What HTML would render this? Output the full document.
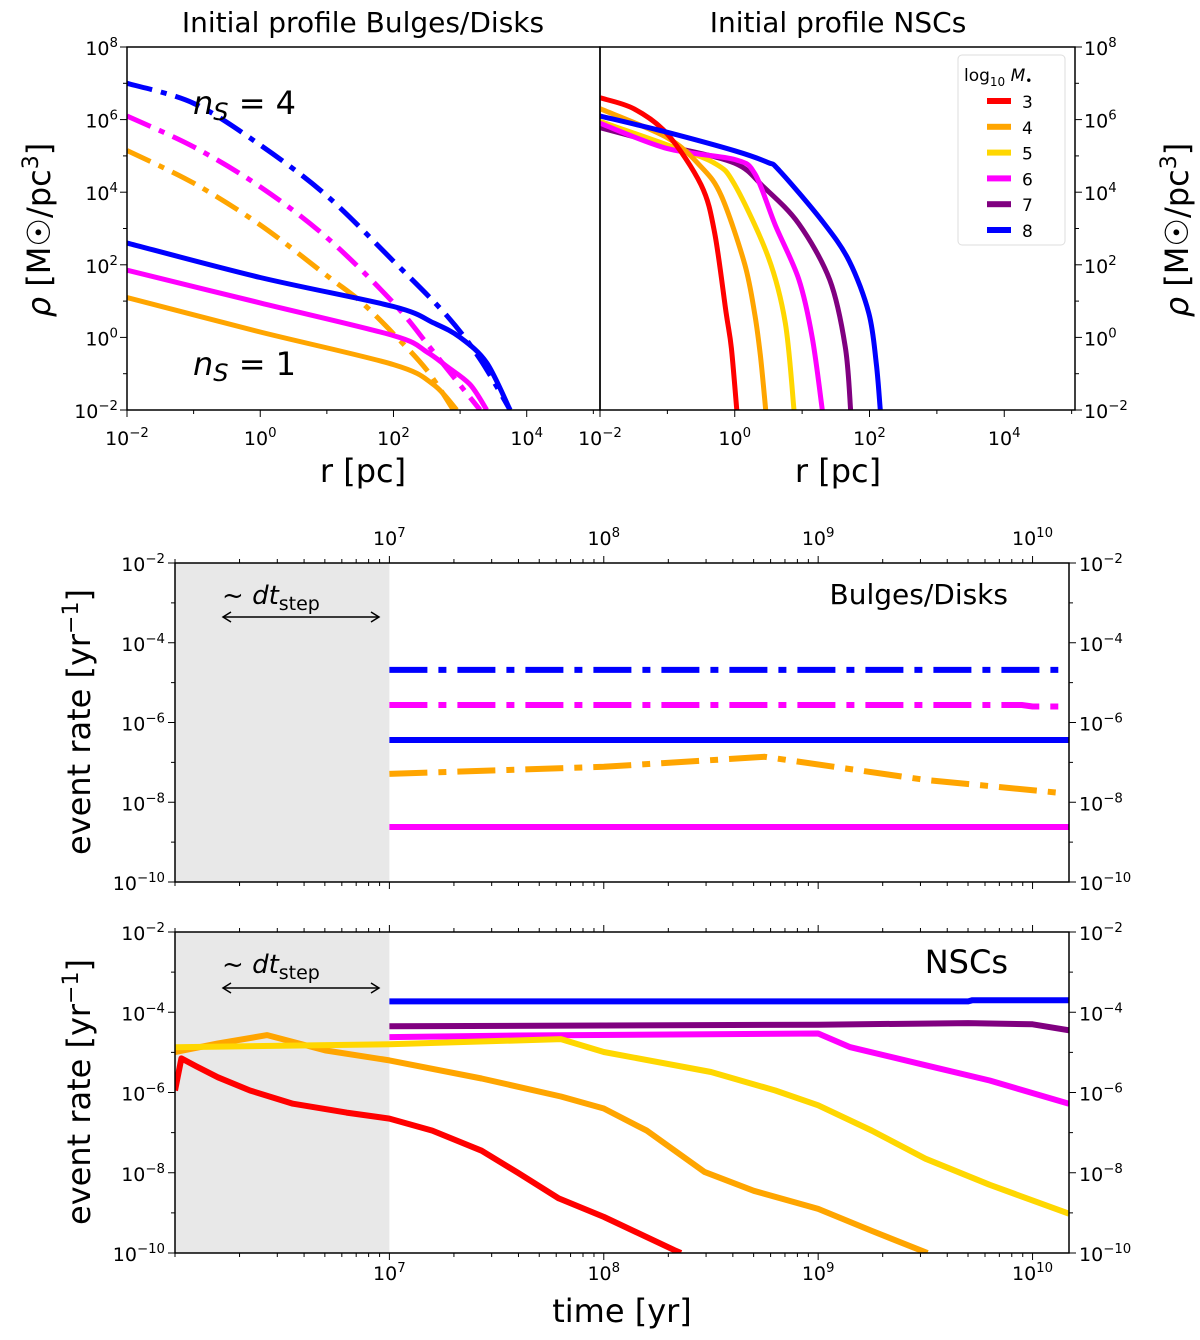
<!DOCTYPE html>
<html><head><meta charset="utf-8"><style>
body{margin:0;background:#fff}
svg{display:block}
text{font-family:"DejaVu Sans","Liberation Sans",sans-serif;fill:#000}
</style></head><body>
<svg id="c" width="1200" height="1340" viewBox="0 0 1200 1340" xmlns="http://www.w3.org/2000/svg"></svg>
<script>
// ---------- data ----------
const massLabels=["3","4","5","6","7","8"];
const massColors=["#ff0000","#ffa500","#ffd700","#ff00ff","#800080","#0000ff"];
// Bulges/Disks profiles: [log r, log rho]
const bdBlueN4=[[-2,7.0],[-1,6.45],[0,5.3],[1,3.9],[2,2.1],[2.8,0.6],[3.3,-0.6],[3.75,-2]];
const bdMagN4=[[-2,6.1],[-1,5.25],[0,4.15],[1,2.75],[2,0.95],[2.6,-0.4],[3.3,-2]];
const bdOrN4=[[-2,5.15],[-1,4.25],[0,3.1],[1,1.7],[1.5,1.0],[2,0.1],[2.5,-0.9],[2.9,-2]];
const bdBlueN1=[[-2,2.6],[0,1.65],[2,0.85],[2.6,0.4],[3.0,0.0],[3.4,-0.7],[3.75,-2]];
const bdMagN1=[[-2,1.85],[0,0.95],[2,0.05],[2.5,-0.4],[2.8,-0.8],[3.15,-1.3],[3.4,-2]];
const bdOrN1=[[-2,1.1],[0,0.15],[2,-0.75],[2.6,-1.3],[2.95,-2]];
// NSC profiles
const nscRed=[[-2,6.6],[-1.5,6.3],[-1,5.6],[-0.5,4.2],[-0.3,2.9],[-0.13,0.7],[-0.05,-0.3],[0.03,-2]];
const nscOrange=[[-2,6.3],[-1,5.5],[-0.5,4.7],[-0.2,3.9],[0.15,2.0],[0.3,0.6],[0.38,-0.5],[0.46,-2]];
const nscYellow=[[-2,5.95],[-1,5.3],[-0.3,4.8],[0,4.2],[0.5,2.2],[0.75,0.4],[0.88,-2]];
const nscMagenta=[[-2,5.9],[-1,5.2],[0,4.9],[0.3,4.5],[0.6,3.1],[0.95,1.6],[1.15,0],[1.3,-2]];
const nscPurple=[[-2,5.78],[-1,5.28],[0,4.8],[0.43,4.14],[0.95,3.13],[1.41,1.58],[1.64,-0.25],[1.72,-2]];
const nscBlue=[[-2,6.1],[-1,5.65],[0,5.14],[0.49,4.82],[0.66,4.6],[1.3,3.2],[1.7,2.1],[1.99,0.67],[2.1,-0.7],[2.16,-2]];
// Event rates Bulges/Disks: [log t, log rate]
const erBlueDD=[[7,-4.68],[10.12,-4.68]];
const erMagDD=[[7,-5.56],[9.95,-5.56],[10.0,-5.6],[10.12,-5.6]];
const erBlueS=[[7,-6.44],[10.17,-6.44]];
const erOrDD=[[7,-7.29],[8,-7.11],[8.75,-6.86],[9.5,-7.44],[10.12,-7.76]];
const erMagS=[[7,-8.62],[10.17,-8.62]];
// Event rates NSCs
const nRed=[[6.0,-5.95],[6.03,-5.15],[6.1,-5.35],[6.2,-5.62],[6.35,-5.95],[6.55,-6.28],[6.8,-6.5],[7.0,-6.65],[7.2,-6.95],[7.43,-7.45],[7.6,-8.0],[7.79,-8.64],[8.0,-9.1],[8.33,-9.93],[8.36,-10]];
const nOrange=[[6.0,-4.99],[6.2,-4.78],[6.43,-4.57],[6.7,-4.95],[7.0,-5.2],[7.43,-5.65],[7.8,-6.1],[8.0,-6.4],[8.2,-6.95],[8.47,-7.98],[8.7,-8.45],[9.0,-8.9],[9.25,-9.45],[9.51,-10]];
const nYellow=[[6.0,-4.87],[7.0,-4.8],[7.8,-4.67],[8.0,-4.99],[8.5,-5.49],[8.8,-5.95],[9.0,-6.32],[9.25,-6.95],[9.5,-7.65],[9.8,-8.3],[10.17,-9.02]];
const nMagenta=[[7.0,-4.62],[7.6,-4.58],[9.0,-4.53],[9.15,-4.87],[9.5,-5.32],[9.8,-5.7],[10.17,-6.28]];
const nPurple=[[7.0,-4.35],[9.0,-4.31],[9.7,-4.27],[10.0,-4.3],[10.17,-4.45]];
const nBlue=[[7.0,-3.73],[9.7,-3.73],[9.72,-3.70],[10.17,-3.70]];

// ---------- helpers ----------
const S=document.getElementById('c');const NS="http://www.w3.org/2000/svg";
function el(t,a,p){const e=document.createElementNS(NS,t);for(const k in a)e.setAttribute(k,a[k]);(p||S).appendChild(e);return e;}
function ax(x0,x1,d0,d1){return v=>x0+(v-d0)/(d1-d0)*(x1-x0);}
function panel(name,L,R,T,B,xd,yd){
  const g=el('g',{});
  return {g,L,R,T,B,X:ax(L,R,xd[0],xd[1]),Y:ax(B,T,yd[0],yd[1]),xd,yd};
}
function clip(p,id){const c=el('clipPath',{id});el('rect',{x:p.L,y:p.T,width:p.R-p.L,height:p.B-p.T},c);return 'url(#'+id+')';}
function polyPath(pts){return pts.map((q,i)=>(i?'L':'M')+q[0].toFixed(1)+','+q[1].toFixed(1)).join('');}
function smoothPath(pts){
  if(pts.length<3)return polyPath(pts);
  let d='M'+pts[0][0].toFixed(1)+','+pts[0][1].toFixed(1);const t=0.16;
  for(let i=0;i<pts.length-1;i++){
    const p0=pts[Math.max(0,i-1)],p1=pts[i],p2=pts[i+1],p3=pts[Math.min(pts.length-1,i+2)];
    const c1=[p1[0]+(p2[0]-p0[0])*t,p1[1]+(p2[1]-p0[1])*t];
    const c2=[p2[0]-(p3[0]-p1[0])*t,p2[1]-(p3[1]-p1[1])*t];
    d+='C'+c1[0].toFixed(1)+','+c1[1].toFixed(1)+' '+c2[0].toFixed(1)+','+c2[1].toFixed(1)+' '+p2[0].toFixed(1)+','+p2[1].toFixed(1);
  }
  return d;
}
function line(p,data,color,w,dash,name,cl,smooth){
  const pts=data.map(q=>[p.X(q[0]),p.Y(q[1])]);
  const e=el('path',{d:smooth?smoothPath(pts):polyPath(pts),fill:'none',stroke:color,'stroke-width':w,'stroke-linejoin':'round','clip-path':cl},p.g);
  if(dash)e.setAttribute('stroke-dasharray',dash);
  
}
function frame(p){el('rect',{x:p.L,y:p.T,width:p.R-p.L,height:p.B-p.T,fill:'none',stroke:'#000','stroke-width':1.5},p.g);}
let p0g=S;
function sup(x,y,base,exp,anchor,fs,name){
  const t=el('text',{x,y,'font-size':fs,'text-anchor':anchor},p0g);
  
  t.innerHTML=base+'<tspan dy="-8" font-size="'+(fs*0.7)+'">'+exp+'</tspan>';
  return t;
}
function xticks(p,majors,labelY,sides,minor,prefix){
  p0g=p.g;
  for(let k=Math.floor(p.xd[0]);k<=Math.ceil(p.xd[1]);k++){
    for(let m=1;m<10;m++){const v=k+Math.log10(m);if(v<p.xd[0]-1e-6||v>p.xd[1]+1e-6)continue;
      if(m>1&&!minor)continue;const len=(m==1&&majors.includes(k))?7:4;const x=p.X(v);
      sides.forEach(s=>{const y=s=='b'?p.B:p.T;el('line',{x1:x,x2:x,y1:y,y2:s=='b'?y+len:y-len,stroke:'#000','stroke-width':1},p.g);});}
  }
  majors.forEach(v=>{if(labelY!=null)sup(p.X(v),labelY,'10',String(v).replace('-','−'),'middle',19,prefix+'-x-tick');});
}
function yticks(p,majors,sides,lx,rx){
  p0g=p.g;
  for(let k=Math.floor(p.yd[0]);k<=p.yd[1];k++){
    const len=majors.includes(k)?7:4;const y=p.Y(k);
    sides.forEach(s=>{const x=s=='l'?p.L:p.R;el('line',{x1:x,x2:s=='l'?x-len:x+len,y1:y,y2:y,stroke:'#000','stroke-width':1},p.g);});
  }
  majors.forEach(v=>{const lab=String(v).replace('-','−');
    if(lx!=null)sup(lx,p.Y(v)+8,'10',lab,'end',19,'y-tick-left');
    if(rx!=null)sup(rx,p.Y(v)+8,'10',lab,'start',19,'y-tick-right');});
}
function txt(x,y,s,fs,attrs,name,html){const t=el('text',Object.assign({x,y,'font-size':fs},attrs||{}));
  
  if(html)t.innerHTML=s;else t.textContent=s;return t;}

// ---------- top-left ----------
const A=panel('bulges-disks-profile-panel',127,600,47,410,[-2,5.1],[-2,8]);
const cA=clip(A,'ca');
xticks(A,[-2,0,2,4],445,['b'],false,'bd');
yticks(A,[-2,0,2,4,6,8],['l'],118,null);
const ddTop='26,9,6,9';
line(A,bdBlueN4,'#0000ff',5,ddTop,'line-blue-ns4',cA,true);
line(A,bdMagN4,'#ff00ff',5,ddTop,'line-magenta-ns4',cA,true);
line(A,bdOrN4,'#ffa500',5,ddTop,'line-orange-ns4',cA,true);
line(A,bdBlueN1,'#0000ff',5,null,'line-blue-ns1',cA,true);
line(A,bdMagN1,'#ff00ff',5,null,'line-magenta-ns1',cA,true);
line(A,bdOrN1,'#ffa500',5,null,'line-orange-ns1',cA,true);
frame(A);
txt(193,114,'<tspan font-style="italic">n</tspan><tspan font-style="italic" font-size="24" dy="6">S</tspan><tspan dy="-6"> = 4</tspan>',32,{},'label-ns4',true);
txt(193,375,'<tspan font-style="italic">n</tspan><tspan font-style="italic" font-size="24" dy="6">S</tspan><tspan dy="-6"> = 1</tspan>',32,{},'label-ns1',true);
txt(363,32,'Initial profile Bulges/Disks',28,{'text-anchor':'middle'},'title-bulges-disks');
txt(363,482,'r [pc]',32,{'text-anchor':'middle'},'x-axis-title-left');
txt(0,0,'<tspan font-style="italic">ρ</tspan> [M<tspan>☉</tspan>/pc<tspan dy="-12" font-size="22">3</tspan><tspan dy="12">]</tspan>',32,{'text-anchor':'middle',transform:'translate(50,230) rotate(-90)'},'y-axis-title-left',true);

// ---------- top-right ----------
const Bp=panel('nsc-profile-panel',600,1075,47,410,[-2,5.05],[-2,8]);
const cB=clip(Bp,'cb');
xticks(Bp,[-2,0,2,4],445,['b'],false,'nsc');
yticks(Bp,[-2,0,2,4,6,8],['r'],null,1084);
[nscPurple,nscYellow,nscMagenta,nscOrange,nscRed,nscBlue].forEach((d,i)=>{
  const idx=[4,2,3,1,0,5][i];
  line(Bp,d,massColors[idx],5,null,'nsc-profile-mass-'+massLabels[idx],cB,true);});
frame(Bp);
txt(838,32,'Initial profile NSCs',28,{'text-anchor':'middle'},'title-nscs');
txt(838,482,'r [pc]',32,{'text-anchor':'middle'},'x-axis-title-right');
txt(0,0,'<tspan font-style="italic">ρ</tspan> [M<tspan>☉</tspan>/pc<tspan dy="-12" font-size="22">3</tspan><tspan dy="12">]</tspan>',32,{'text-anchor':'middle',transform:'translate(1188,230) rotate(-90)'},'y-axis-title-right',true);
// legend
const lg=el('g',{});
el('rect',{x:958,y:55,width:107,height:190,rx:4,fill:'#fff',stroke:'#ddd','stroke-width':1},lg);
const lt=el('text',{x:964,y:81,'font-size':17},lg);
lt.innerHTML='log<tspan font-size="12" dy="5">10</tspan><tspan dy="-5" font-style="italic"> M</tspan><tspan font-size="12" dy="4">•</tspan>';
massLabels.forEach((m,i)=>{const y=101+i*25.8;
  const r=el('rect',{x:987,y:y-3,width:24,height:6,fill:massColors[i]},lg);
  
  const t=el('text',{x:1022,y:y+7,'font-size':17},lg);t.textContent=m;
  });

// ---------- middle ----------
const M=panel('bulges-disks-rate-panel',175,1069,563,882,[6,10.17],[-10,-2]);
const cM=clip(M,'cm');
el('rect',{x:M.L,y:M.T,width:M.X(7)-M.L,height:M.B-M.T,fill:'#e8e8e8'},M.g);
xticks(M,[7,8,9,10],545,['t','b'],true,'mid');
yticks(M,[-10,-8,-6,-4,-2],['l','r'],165,1079);
const ddMid='38,11,8,11';
line(M,erBlueDD,'#0000ff',6,ddMid,'rate-blue-ns4',cM);
line(M,erMagDD,'#ff00ff',6,ddMid,'rate-magenta-ns4',cM);
line(M,erBlueS,'#0000ff',6,null,'rate-blue-ns1',cM);
line(M,erOrDD,'#ffa500',6,ddMid,'rate-orange-ns4',cM);
line(M,erMagS,'#ff00ff',6,null,'rate-magenta-ns1',cM);
frame(M);
txt(1008,604,'Bulges/Disks',28,{'text-anchor':'end'},'label-bulges-disks');
txt(0,0,'event rate [yr<tspan dy="-12" font-size="22">−1</tspan><tspan dy="12">]</tspan>',32,{'text-anchor':'middle',transform:'translate(90,722) rotate(-90)'},'y-axis-title-mid',true);

// ---------- bottom ----------
const Bt=panel('nsc-rate-panel',175,1069,932,1253,[6,10.17],[-10,-2]);
const cN=clip(Bt,'cn');
el('rect',{x:Bt.L,y:Bt.T,width:Bt.X(7)-Bt.L,height:Bt.B-Bt.T,fill:'#e8e8e8'},Bt.g);
xticks(Bt,[7,8,9,10],1280,['t','b'],true,'bot');
yticks(Bt,[-10,-8,-6,-4,-2],['l','r'],165,1079);
line(Bt,nBlue,'#0000ff',6,null,'rate-nsc-8',cN);
line(Bt,nPurple,'#800080',6,null,'rate-nsc-7',cN);
line(Bt,nMagenta,'#ff00ff',6,null,'rate-nsc-6',cN);
line(Bt,nOrange,'#ffa500',6,null,'rate-nsc-4',cN);
line(Bt,nYellow,'#ffd700',6,null,'rate-nsc-5',cN);
line(Bt,nRed,'#ff0000',6,null,'rate-nsc-3',cN);
frame(Bt);
txt(1008,973,'NSCs',32,{'text-anchor':'end'},'label-nscs');
txt(0,0,'event rate [yr<tspan dy="-12" font-size="22">−1</tspan><tspan dy="12">]</tspan>',32,{'text-anchor':'middle',transform:'translate(90,1092) rotate(-90)'},'y-axis-title-bottom',true);
txt(622,1322,'time [yr]',32,{'text-anchor':'middle'},'x-axis-title-time');

// dt_step annotations
[[604,617],[973,988]].forEach((a,i)=>{
  txt(222,a[0],'~ <tspan font-style="italic">dt</tspan><tspan font-size="19" dy="6">step</tspan>',26,{},'dt-step-label-'+i,true);
  const y=a[1];
  el('line',{x1:224,x2:378,y1:y,y2:y,stroke:'#000','stroke-width':1.5});
  el('path',{d:`M231,${y-5} L223,${y} L231,${y+5} M371,${y-5} L379,${y} L371,${y+5}`,fill:'none',stroke:'#000','stroke-width':1.5});
});
</script>
</body></html>
